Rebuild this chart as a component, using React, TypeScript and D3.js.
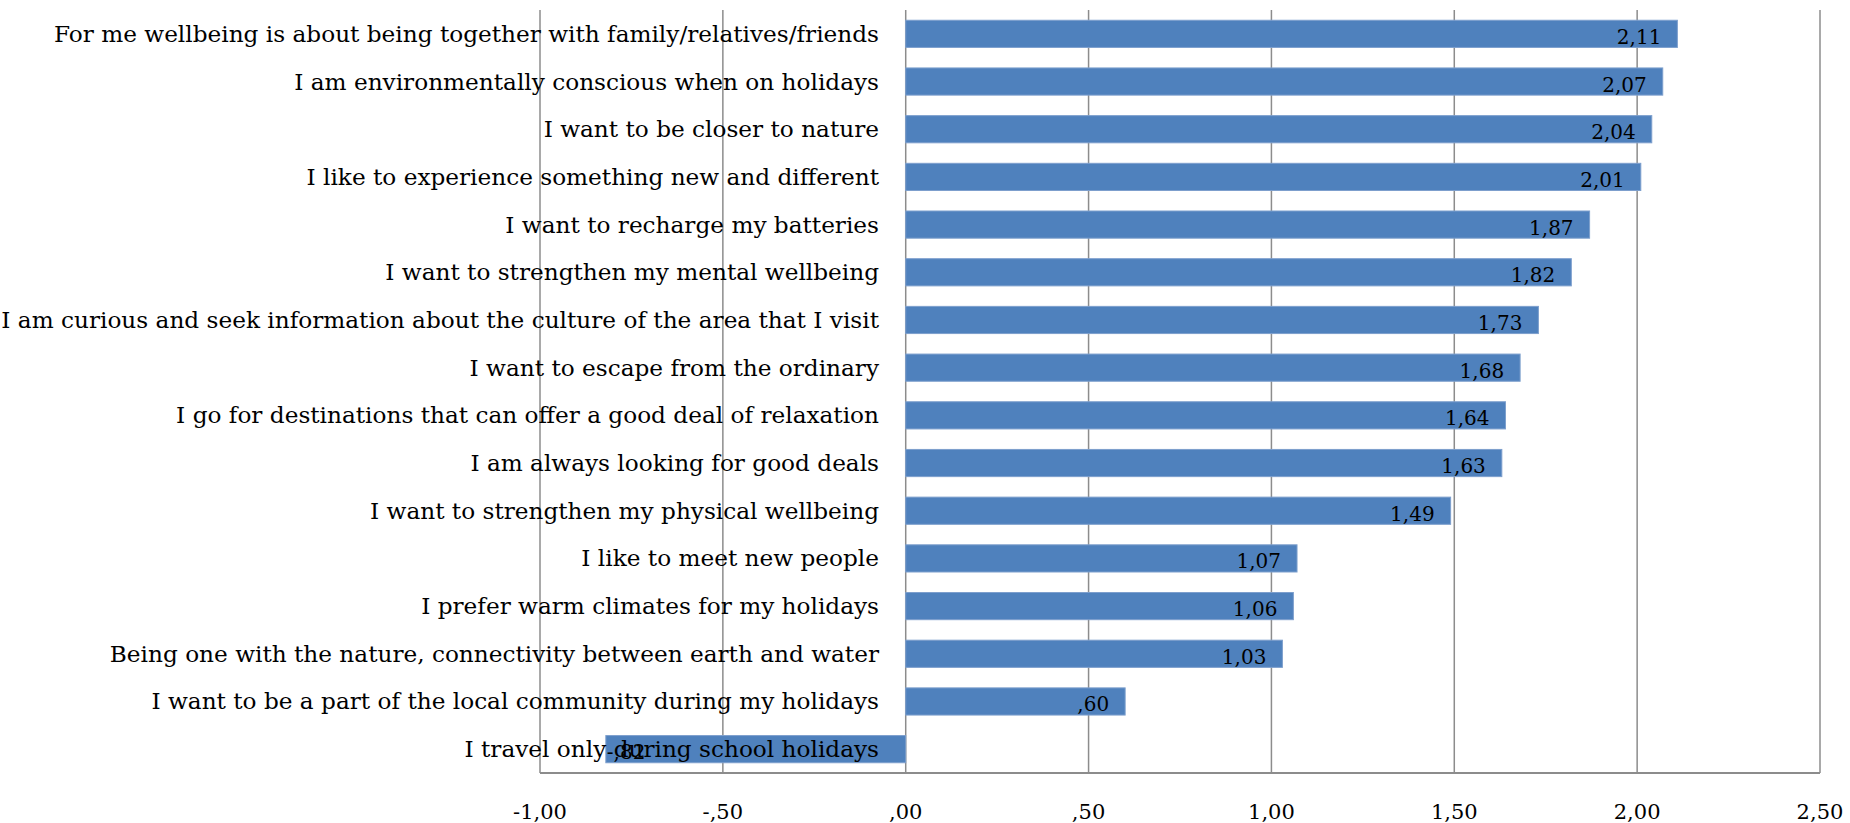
import * as d3 from 'd3';
import { useEffect, useRef } from 'react';

const categories = [
  'For me wellbeing is about being together with family/relatives/friends',
  'I am environmentally conscious when on holidays',
  'I want to be closer to nature',
  'I like to experience something new and different',
  'I want to recharge my batteries',
  'I want to strengthen my mental wellbeing',
  'I am curious and seek information about the culture of the area that I visit',
  'I want to escape from the ordinary',
  'I go for destinations that can offer a good deal of relaxation',
  'I am always looking for good deals',
  'I want to strengthen my physical wellbeing',
  'I like to meet new people',
  'I prefer warm climates for my holidays',
  'Being one with the nature, connectivity between earth and water',
  'I want to be a part of the local community during my holidays',
  'I travel only during school holidays',
];

const values = [2.11, 2.07, 2.04, 2.01, 1.87, 1.82, 1.73, 1.68, 1.64, 1.63, 1.49, 1.07, 1.06, 1.03, 0.6, -0.82];

const ticks = [-1, -0.5, 0, 0.5, 1, 1.5, 2, 2.5];

// SPSS style: comma decimal, no leading zero
const fmt = (v: number) => {
  const s = Math.abs(v).toFixed(2).replace('.', ',');
  const t = s.startsWith('0') ? s.slice(1) : s;
  return (v < 0 ? '-' : '') + t;
};

export default function App() {
  const ref = useRef<HTMLDivElement>(null);

  useEffect(() => {
    const width = 1850;
    const height = 823;
    const plot = { left: 540, right: 1820, top: 10, bottom: 773 };
    const font = 'DejaVu Serif';
    const gridColor = '#8c8c8c';

    const svg = d3
      .create('svg')
      .attr('width', width)
      .attr('height', height)
      .style('position', 'absolute')
      .style('left', 0)
      .style('top', 0)
      .style('background', '#fff');

    const x = d3.scaleLinear().domain([-1, 2.5]).range([plot.left, plot.right]);
    const y = d3
      .scaleBand<string>()
      .domain(categories)
      .range([plot.top, plot.bottom])
      .paddingInner(0.43)
      .paddingOuter(0.215);

    // vertical gridlines
    svg
      .append('g')
      .selectAll('line')
      .data(ticks)
      .join('line')
      .attr('x1', d => x(d))
      .attr('x2', d => x(d))
      .attr('y1', plot.top)
      .attr('y2', plot.bottom)
      .attr('stroke', gridColor)
      .attr('stroke-width', 1.5);

    // bottom axis line
    svg
      .append('line')
      .attr('x1', plot.left)
      .attr('x2', plot.right)
      .attr('y1', plot.bottom)
      .attr('y2', plot.bottom)
      .attr('stroke', gridColor)
      .attr('stroke-width', 2);

    const rows = categories.map((c, i) => ({ c, v: values[i] }));

    svg
      .append('g')
      .selectAll('rect')
      .data(rows)
      .join('rect')
      .attr('x', d => x(Math.min(0, d.v)))
      .attr('width', d => Math.abs(x(d.v) - x(0)))
      .attr('y', d => y(d.c)!)
      .attr('height', y.bandwidth())
      .attr('fill', '#4f81bd')
      .attr('stroke', '#7d9fcd')
      .attr('stroke-width', 1);

    // value labels
    svg
      .append('g')
      .selectAll('text')
      .data(rows)
      .join('text')
      .attr('font-family', font)
      .attr('font-size', 20)
      .attr('fill', '#000')
      .attr('text-anchor', d => (d.v < 0 ? 'start' : 'end'))
      .attr('x', d => (d.v < 0 ? x(d.v) + 1 : x(d.v) - 16))
      .attr('y', d => y(d.c)! + y.bandwidth() / 2 + 10)
      .text(d => fmt(d.v));

    // category labels
    svg
      .append('g')
      .selectAll('text')
      .data(rows)
      .join('text')
      .attr('font-family', font)
      .attr('font-size', 23.2)
      .attr('fill', '#000')
      .attr('text-anchor', 'end')
      .attr('x', 879)
      .attr('y', d => y(d.c)! + y.bandwidth() / 2 + 8)
      .text(d => d.c);

    // tick labels
    svg
      .append('g')
      .selectAll('text')
      .data(ticks)
      .join('text')
      .attr('font-family', font)
      .attr('font-size', 21)
      .attr('fill', '#000')
      .attr('text-anchor', 'middle')
      .attr('x', d => x(d))
      .attr('y', 819)
      .text(d => fmt(d));

    ref.current!.innerHTML = '';
    ref.current!.append(svg.node()!);
  }, []);

  return <div ref={ref}></div>;
}
